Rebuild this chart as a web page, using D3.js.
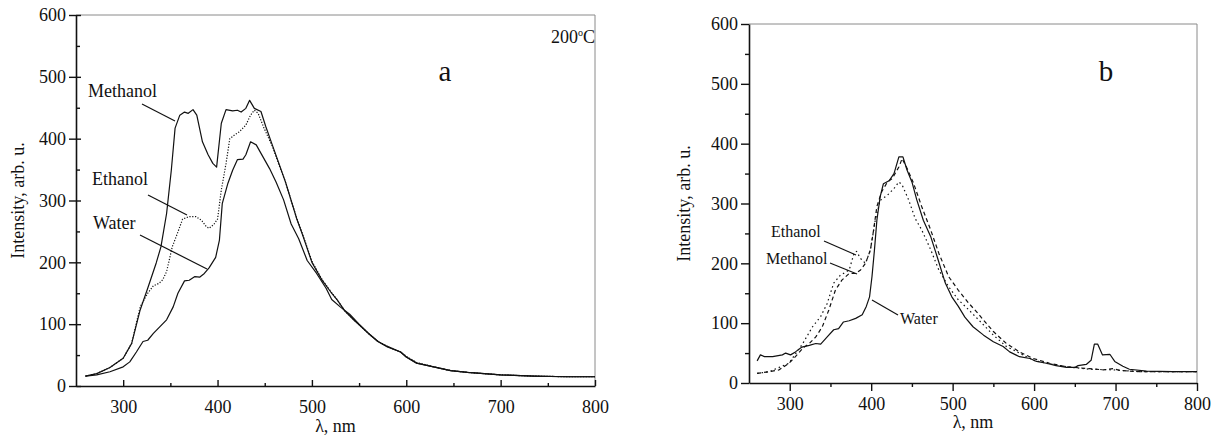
<!DOCTYPE html>
<html lang="en">
<head>
<meta charset="UTF-8">
<title>Luminescence spectra</title>
<script src="https://cdn.jsdelivr.net/npm/d3@7"></script>
<style>
  body { margin: 0; background: #fff; }
  .curve { fill: none; stroke: #111; stroke-width: 1.2; stroke-linejoin: round; }
  .leader { stroke: #111; stroke-width: 1.2; }
</style>
</head>
<body>
<svg width="1220" height="443"></svg>
<script>
// tick values
const xMajor = [300, 400, 500, 600, 700, 800];
const xMinor = [350, 450, 550, 650, 750];
const yMajor = [0, 100, 200, 300, 400, 500, 600];
const yMinor = [50, 150, 250, 350, 450, 550];

// panel a (200 C): [wavelength nm, intensity]
const aMethanol = [[260,16],[272,20],[286,30],[300,45],[309,69],[318,123],[326,158],[335,199],[340,225],[346,279],[351,349],[355,417],[360,438],[365,443],[369,441],[374,447],[378,438],[384,395],[390,374],[395,360],[399,354],[404,425],[409,447],[416,445],[421,446],[425,443],[430,449],[434,462],[439,449],[446,444],[451,420],[458,390],[465,360],[472,330],[478,300],[484,270],[490,245],[500,200],[510,173],[520,152],[527,139],[535,121],[545,106],[550,99],[560,85],[570,72],[580,64],[594,55],[600,47],[611,37],[629,31],[647,25],[665,22],[700,18],[735,16],[771,15],[800,15]];
const aEthanol = [[260,16],[272,20],[286,30],[300,45],[309,69],[318,128],[326,150],[332,162],[338,166],[342,172],[346,185],[352,225],[357,245],[363,270],[370,274],[377,274],[383,268],[388,258],[391,255],[396,261],[400,270],[404,317],[409,360],[413,400],[418,406],[423,411],[430,422],[435,438],[439,446],[443,441],[449,418],[458,388],[465,358],[472,330],[478,300],[484,271],[490,246],[500,202],[510,174],[520,153],[527,139],[535,121],[545,106],[550,99],[560,85],[570,72],[580,64],[594,55],[600,48],[611,38],[629,31],[647,25],[665,22],[700,18],[735,16],[771,15],[800,15]];
const aWater = [[260,16],[272,18],[286,23],[300,31],[307,39],[314,55],[321,72],[326,74],[332,85],[339,96],[346,107],[353,128],[358,150],[365,170],[370,171],[376,177],[381,176],[386,182],[391,191],[398,208],[402,236],[405,295],[411,328],[416,349],[421,366],[427,367],[430,374],[435,395],[441,390],[448,371],[455,352],[462,330],[470,301],[478,262],[486,238],[495,203],[505,182],[515,158],[521,140],[530,128],[540,116],[550,100],[560,85],[570,72],[580,63],[594,55],[600,47],[611,37],[629,31],[647,25],[665,22],[700,18],[735,16],[771,15],[800,15]];

// panel b: [wavelength nm, intensity]
const bWater = [[260,37],[264,47],[269,44],[279,44],[291,47],[295,50],[301,47],[307,52],[315,60],[324,63],[332,66],[338,65],[346,77],[354,89],[360,91],[366,102],[373,104],[381,108],[389,114],[394,128],[398,144],[401,178],[404,222],[407,272],[411,311],[415,333],[422,338],[428,350],[434,378],[439,378],[444,356],[450,336],[456,306],[464,272],[473,245],[481,211],[491,167],[499,144],[507,128],[515,110],[525,94],[538,80],[550,69],[562,61],[570,52],[582,44],[595,41],[603,36],[615,33],[627,29],[640,26],[650,26],[654,29],[664,31],[670,38],[674,65],[678,65],[684,47],[693,48],[699,36],[709,28],[717,23],[738,20],[770,19],[800,19]];
const bMethanol = [[260,16],[275,19],[287,22],[299,33],[307,44],[316,58],[324,66],[332,77],[340,94],[348,122],[356,155],[364,172],[373,183],[381,183],[387,189],[393,200],[399,222],[403,256],[407,295],[413,320],[420,336],[426,342],[434,361],[438,375],[444,359],[452,334],[462,295],[473,256],[483,217],[495,178],[507,155],[520,133],[530,118],[538,105],[550,86],[566,66],[582,52],[599,41],[619,33],[640,27],[668,24],[685,22],[697,24],[705,21],[729,19],[770,19],[800,19]];
const bEthanol = [[260,16],[275,19],[299,33],[316,66],[328,94],[338,111],[346,133],[354,167],[362,180],[373,189],[379,217],[382,220],[387,208],[393,200],[399,222],[405,272],[411,305],[420,314],[428,325],[434,336],[438,331],[446,306],[454,275],[462,256],[473,223],[483,189],[495,161],[507,139],[520,122],[538,97],[550,80],[566,61],[582,50],[599,38],[619,32],[640,27],[668,23],[697,22],[729,19],[770,19],[800,19]];

const FONT = "'Liberation Serif', 'Times New Roman', Times, serif";
const svg = d3.select("svg");

function drawPanel(p) {
  const x = d3.scaleLinear().domain([250, 800]).range([p.left, p.right]);
  const y = d3.scaleLinear().domain([0, 600]).range([p.bottom, p.top]);
  const g = svg.append("g");

  // grey frame top / right
  g.append("line").attr("x1", x(250)).attr("x2", x(800)).attr("y1", y(600)).attr("y2", y(600))
    .attr("stroke", "#8a8a8a").attr("stroke-width", 1);
  g.append("line").attr("x1", x(800)).attr("x2", x(800)).attr("y1", y(600)).attr("y2", y(0))
    .attr("stroke", "#8a8a8a").attr("stroke-width", 1);

  // curves
  const line = d3.line().x(d => x(d[0])).y(d => y(d[1]));
  p.series.forEach(s => {
    g.append("path").datum(s.data).attr("class", "curve")
      .attr("d", line)
      .attr("stroke-dasharray", s.dash || null);
  });

  // axes
  function styleAxis(sel) {
    sel.attr("font-family", FONT);
    sel.select(".domain").attr("stroke", "#111").attr("stroke-width", 1.6);
    sel.selectAll(".tick line").attr("stroke", "#111").attr("stroke-width", 1.4);
    sel.selectAll("text").attr("font-size", 18).attr("fill", "#111");
  }

  const xAx = g.append("g").attr("transform", "translate(0," + p.bottom + ")")
    .call(d3.axisBottom(x).tickValues(xMajor).tickSizeInner(p.xMajorLen).tickSizeOuter(0).tickPadding(p.xPad));
  styleAxis(xAx);
  const xMin = g.append("g").attr("transform", "translate(0," + p.bottom + ")")
    .call(d3.axisBottom(x).tickValues(xMinor).tickSizeInner(p.xMinorLen).tickSizeOuter(0).tickFormat(""));
  styleAxis(xMin);
  xMin.select(".domain").remove();

  const yAx = g.append("g").attr("transform", "translate(" + p.left + ",0)")
    .call(d3.axisLeft(y).tickValues(yMajor).tickSizeInner(p.yMajorLen).tickSizeOuter(0).tickPadding(p.yPad));
  styleAxis(yAx);
  if (p.yMajorIn) {
    const yIn = g.append("g").attr("transform", "translate(" + p.left + ",0)")
      .call(d3.axisLeft(y).tickValues(yMajor).tickSizeInner(-p.yMajorIn).tickSizeOuter(0).tickFormat(""));
    styleAxis(yIn);
    yIn.select(".domain").remove();
  }
  const yMin = g.append("g").attr("transform", "translate(" + p.left + ",0)")
    .call(d3.axisLeft(y).tickValues(yMinor).tickSizeInner(p.yMinorLen).tickSizeOuter(0).tickFormat(""));
  styleAxis(yMin);
  yMin.select(".domain").remove();

  // axis titles
  g.append("text").attr("x", (p.left + p.right) / 2).attr("y", p.xTitleY)
    .attr("text-anchor", "middle").attr("font-size", 18).text("λ, nm");
  g.append("text").attr("transform", "translate(" + p.yTitleX + "," + (p.top + p.bottom) / 2 + ") rotate(-90)")
    .attr("text-anchor", "middle").attr("font-size", 18).text("Intensity, arb. u.");

  // panel letter
  g.append("text").attr("x", p.letterX).attr("y", p.letterY)
    .attr("text-anchor", "middle").attr("font-size", 29).text(p.letter);

  // curve labels with leader lines
  p.labels.forEach(l => {
    g.append("text").attr("x", l.tx).attr("y", l.ty).attr("font-size", p.labelSize).text(l.text);
    g.append("line").attr("class", "leader")
      .attr("x1", l.x1).attr("y1", l.y1).attr("x2", l.x2).attr("y2", l.y2);
  });
  return g;
}

const gA = drawPanel({
  left: 76, right: 595, top: 15, bottom: 386,
  xMajorLen: -6, xMinorLen: -3, xPad: 14,
  yMajorLen: 7, yMajorIn: 5, yMinorLen: -4, yPad: 3,
  xTitleY: 432, yTitleX: 24,
  letter: "a", letterX: 445, letterY: 81,
  labelSize: 18,
  series: [
    { data: aMethanol },
    { data: aWater },
    { data: aEthanol, dash: "1.2,1.6" }
  ],
  labels: [
    { text: "Methanol", tx: 88, ty: 97, x1: 142, y1: 104, x2: 175, y2: 121 },
    { text: "Ethanol", tx: 92, ty: 185, x1: 148, y1: 195, x2: 187, y2: 215 },
    { text: "Water", tx: 93, ty: 229, x1: 140, y1: 235, x2: 207, y2: 269 }
  ]
});

// temperature note
const tNote = gA.append("text").attr("x", 595).attr("y", 43).attr("text-anchor", "end").attr("font-size", 18);
tNote.append("tspan").text("200");
tNote.append("tspan").attr("font-size", 10).attr("dy", -7).text("o");
tNote.append("tspan").attr("dy", 7).text("C");

drawPanel({
  left: 749, right: 1197, top: 24, bottom: 383,
  xMajorLen: 8, xMinorLen: 4, xPad: 6,
  yMajorLen: 8, yMajorIn: 0, yMinorLen: 4, yPad: 3,
  xTitleY: 428, yTitleX: 690,
  letter: "b", letterX: 1106, letterY: 81,
  labelSize: 16,
  series: [
    { data: bWater },
    { data: bMethanol, dash: "4,3" },
    { data: bEthanol, dash: "1.5,3" }
  ],
  labels: [
    { text: "Ethanol", tx: 771, ty: 237, x1: 824, y1: 241, x2: 856, y2: 255 },
    { text: "Methanol", tx: 766, ty: 264, x1: 830, y1: 263, x2: 857, y2: 274 },
    { text: "Water", tx: 900, ty: 324, x1: 872, y1: 300, x2: 898, y2: 315 }
  ]
});

// serif everywhere
svg.selectAll("text").style("font-family", FONT).style("fill", "#111");
</script>
</body>
</html>
